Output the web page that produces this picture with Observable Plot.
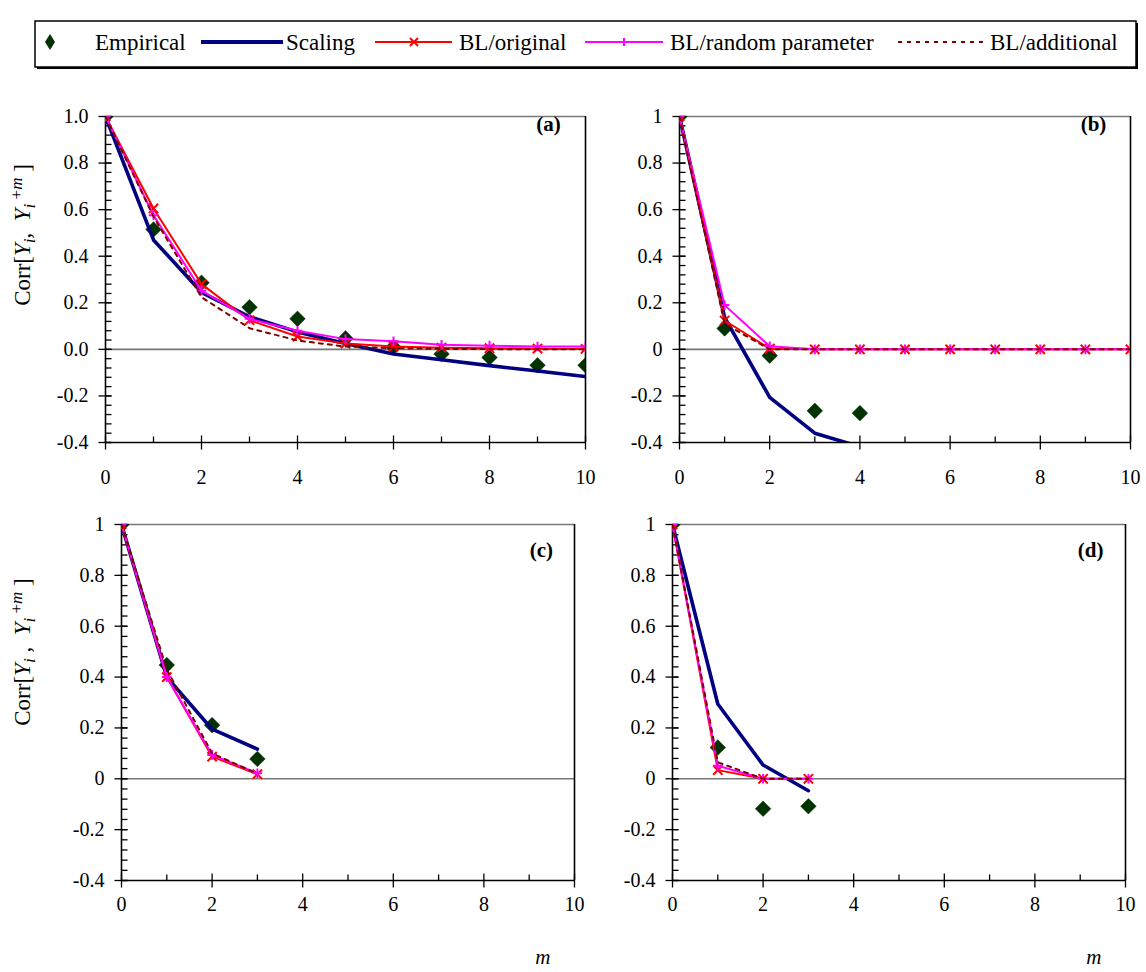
<!DOCTYPE html>
<html><head><meta charset="utf-8">
<script src="https://cdn.jsdelivr.net/npm/d3@7"></script>
<script src="https://cdn.jsdelivr.net/npm/@observablehq/plot@0.6"></script>
<style>
body{margin:0;background:#fff;}
#root{position:relative;width:1146px;height:972px;overflow:hidden;font-family:"Liberation Serif","Times New Roman",serif;background:#fff;}
.pane{position:absolute;}
</style></head><body><div id="root"></div>
<script>
// ---------- data ----------
const lags = [0,1,2,3,4,5,6,7,8,9,10];
const seriesNames = ["Empirical","Scaling","BL/original","BL/random parameter","BL/additional"];
const seriesColors = ["#003300","#000080","#FF0000","#FF00FF","#800000"];
const yTicks = [-0.4,-0.2,0,0.2,0.4,0.6,0.8,1];
const xTicks = [0,2,4,6,8,10];
const xMinor = [1,3,5,7,9];
const panelLabels = ["(a)","(b)","(c)","(d)"];

// panel (a)
const aEmpirical = [1,0.515,0.286,0.181,0.131,0.047,0.01,-0.02,-0.035,-0.068,-0.068];
const aScaling   = [1,0.47,0.245,0.14,0.075,0.025,-0.02,-0.045,-0.07,-0.093,-0.117];
const aOriginal  = [1,0.605,0.28,0.125,0.055,0.025,0.012,0.007,0.005,0.003,0.002];
const aRandom    = [1,0.576,0.252,0.131,0.08,0.044,0.035,0.02,0.016,0.012,0.012];
const aAdditional= [1,0.57,0.224,0.091,0.038,0.012,0.005,0.002,0.001,0,0];
// panel (b)
const bEmpirical = [1,0.09,-0.027,-0.264,-0.274];
const bScaling   = [1,0.137,-0.206,-0.36,-0.418];
const bOriginal  = [1,0.124,0.003,0,0,0,0,0,0,0,0];
const bRandom    = [1,0.19,0.013,0,0,0,0,0,0,0,0];
const bAdditional= [1,0.11,0,0,0,0,0,0,0,0,0];
// panel (c)
const cEmpirical = [1,0.447,0.211,0.078];
const cScaling   = [1,0.40,0.195,0.117];
const cOriginal  = [1,0.40,0.087,0.018];
const cRandom    = [1,0.40,0.094,0.022];
const cAdditional= [1,0.43,0.10,0.02];
// panel (d)
const dEmpirical = [1,0.123,-0.118,-0.108];
const dScaling   = [1,0.294,0.054,-0.047];
const dOriginal  = [1,0.034,0,0];
const dRandom    = [1,0.051,0,0];
const dAdditional= [1,0.065,0,0];

// ---------- helpers ----------
const yMinor = d3.range(0, 36).map(i => +(-0.4 + i*0.04).toFixed(2));
const rows = s => s.map((v,i) => ({m: lags[i], v}));
const seg = (x0,y0,x1,y1) => ({draw(ctx){ctx.moveTo(x0,y0); ctx.lineTo(x1,y1);}});
const diamondSym = {draw(ctx){ctx.moveTo(0,-7.8); ctx.lineTo(7.8,0); ctx.lineTo(0,7.8); ctx.lineTo(-7.8,0); ctx.closePath();}};
const FONT = '"Liberation Serif","Times New Roman",serif';

function makePanel(p) {
  const tickStyle = {stroke:"#000", fill:"none", strokeWidth:1.3, r:1};
  return Plot.plot({
    width: p.width, height: p.height,
    marginLeft: p.ml, marginRight: p.mr, marginTop: p.mt, marginBottom: p.mb,
    x: {domain:[0,10], axis:null},
    y: {domain:[-0.4,1], axis:null},
    style: {fontFamily: FONT, fontSize:"20px", color:"#000", background:"transparent", overflow:"visible"},
    marks: [
      Plot.ruleY([0], {stroke:"#777", strokeWidth:1.6}),
      Plot.ruleY([1], {stroke:"#777", strokeWidth:1.6}),
      Plot.ruleY([-0.4], {stroke:"#000", strokeWidth:1.6}),
      Plot.ruleX([0], {stroke:"#000", strokeWidth:1.6}),
      Plot.ruleX([10], {stroke:"#000", strokeWidth:1.6}),
      Plot.dot(yMinor, {x: () => 0, y: d => d, symbol: seg(0,0,6,0), ...tickStyle}),
      Plot.dot(yTicks, {x: () => 0, y: d => d, symbol: seg(-7,0,6,0), ...tickStyle}),
      Plot.dot(xMinor, {x: d => d, y: () => -0.4, symbol: seg(0,0,0,-6), ...tickStyle}),
      Plot.dot(xTicks, {x: d => d, y: () => -0.4, symbol: seg(0,-7,0,7), ...tickStyle}),
      Plot.axisY(yTicks, {tickSize:0, tickPadding:17, tickFormat: p.yfmt, fontSize:20, label:null}),
      Plot.axisX(xTicks, {tickSize:0, tickPadding:p.xpad, tickFormat: d => String(d), fontSize:20, label:null}),
      Plot.dot(rows(p.emp), {x:"m", y:"v", symbol:diamondSym, r:1, fill:seriesColors[0], stroke:seriesColors[0], strokeWidth:0.5, clip:true}),
      Plot.line(rows(p.scal), {x:"m", y:"v", stroke:seriesColors[1], strokeWidth:3.6, clip:true}),
      Plot.line(rows(p.orig), {x:"m", y:"v", stroke:seriesColors[2], strokeWidth:2, clip:true}),
      Plot.dot(rows(p.orig), {x:"m", y:"v", symbol:"times", r:4.3, stroke:seriesColors[2], strokeWidth:2, clip:true}),
      Plot.line(rows(p.rand), {x:"m", y:"v", stroke:seriesColors[3], strokeWidth:2, clip:true}),
      Plot.dot(rows(p.rand), {x:"m", y:"v", symbol:"plus", r:3.2, stroke:seriesColors[3], strokeWidth:2, clip:true}),
      Plot.line(rows(p.add), {x:"m", y:"v", stroke:seriesColors[4], strokeWidth:2, strokeDasharray:"4,5", clip:true}),
      Plot.text([p.label], {x: () => p.lx, y: () => p.ly, fontWeight:"bold", fontSize:21}),
      ...(p.mlabel ? [Plot.text(["m"], {frameAnchor:"bottom-right", dx:-24, dy:83, fontStyle:"italic", fontSize:21})] : [])
    ]
  });
}

function addYTitle(svgEl, x, y, small) {
  const t = d3.select(svgEl).append("text")
    .attr("transform", `translate(${x},${y}) rotate(-90)`)
    .attr("text-anchor","middle")
    .attr("font-family", FONT).attr("font-size", 23).attr("fill","#000")
    .style("white-space","pre").attr("xml:space","preserve");
  t.append("tspan").text("Corr[");
  t.append("tspan").attr("font-style","italic").text("Y");
  t.append("tspan").attr("font-style","italic").attr("font-size",17).attr("dy",5).text("i");
  t.append("tspan").attr("dy",-5).text(small ? " ,  " : ",  ");
  t.append("tspan").attr("font-style","italic").text("Y");
  t.append("tspan").attr("font-style","italic").attr("font-size",17).attr("dy",5).text("i");
  t.append("tspan").attr("font-size",17).attr("dy",-13).text(" +");
  t.append("tspan").attr("font-style","italic").attr("font-size",17).text("m");
  t.append("tspan").attr("dy",8).text(" ]");
}

const fmt1 = d => d.toFixed(1);
const fmtG = d => String(+d.toFixed(1));

const root = document.getElementById("root");
const specs = [
  {left:0, top:80, width:605, height:412, ml:105, mr:20, mt:36, mb:50, xpad:27, emp:aEmpirical, scal:aScaling, orig:aOriginal, rand:aRandom, add:aAdditional, yfmt:fmt1, label:panelLabels[0], lx:9.23, ly:0.966, title:true},
  {left:605, top:80, width:541, height:412, ml:74, mr:16, mt:36, mb:50, xpad:27, emp:bEmpirical, scal:bScaling, orig:bOriginal, rand:bRandom, add:bAdditional, yfmt:fmtG, label:panelLabels[1], lx:9.18, ly:0.966},
  {left:0, top:492, width:605, height:480, ml:121, mr:31, mt:32, mb:92, xpad:16, emp:cEmpirical, scal:cScaling, orig:cOriginal, rand:cRandom, add:cAdditional, yfmt:fmtG, label:panelLabels[2], lx:9.27, ly:0.9, title:true, small:true, mlabel:true},
  {left:605, top:492, width:541, height:480, ml:67, mr:21, mt:32, mb:92, xpad:16, emp:dEmpirical, scal:dScaling, orig:dOriginal, rand:dRandom, add:dAdditional, yfmt:fmtG, label:panelLabels[3], lx:9.23, ly:0.9, mlabel:true}
];
for (const s of specs) {
  const el = makePanel(s);
  el.classList.add("pane");
  el.style.left = s.left + "px";
  el.style.top = s.top + "px";
  root.appendChild(el);
  if (s.title) addYTitle(el, 30, s.small ? 160 : 155, s.small);
}

// ---------- legend ----------
const lg = d3.select(root).append("svg").attr("class","pane")
  .style("left","0px").style("top","0px").attr("width",1146).attr("height",80);
lg.append("rect").attr("x",37).attr("y",23).attr("width",1101).attr("height",46).attr("fill","#000");
lg.append("rect").attr("x",35).attr("y",21).attr("width",1101).attr("height",46).attr("fill","#fff").attr("stroke","#000").attr("stroke-width",1.5);
const ly = 42;
lg.append("path").attr("d",`M50,${ly-8}L55,${ly}L50,${ly+8}L45,${ly}Z`).attr("fill",seriesColors[0]);
lg.append("line").attr("x1",201).attr("x2",283).attr("y1",ly).attr("y2",ly).attr("stroke",seriesColors[1]).attr("stroke-width",4);
lg.append("line").attr("x1",375).attr("x2",452).attr("y1",ly).attr("y2",ly).attr("stroke",seriesColors[2]).attr("stroke-width",2);
lg.append("path").attr("d",`M410,${ly-4}L418,${ly+4}M418,${ly-4}L410,${ly+4}`).attr("stroke",seriesColors[2]).attr("stroke-width",2);
lg.append("line").attr("x1",585).attr("x2",663).attr("y1",ly).attr("y2",ly).attr("stroke",seriesColors[3]).attr("stroke-width",2);
lg.append("path").attr("d",`M624,${ly-4}L624,${ly+4}M620,${ly}L628,${ly}`).attr("stroke",seriesColors[3]).attr("stroke-width",2);
lg.append("line").attr("x1",898).attr("x2",983).attr("y1",ly).attr("y2",ly).attr("stroke",seriesColors[4]).attr("stroke-width",2).attr("stroke-dasharray","4,5");
const lx = [95,286,459,670,990];
seriesNames.forEach((n,i) => {
  lg.append("text").attr("x",lx[i]).attr("y",ly).attr("dy","0.35em")
    .attr("font-family",FONT).attr("font-size",23).attr("fill","#000").text(n);
});
</script>
</body></html>
